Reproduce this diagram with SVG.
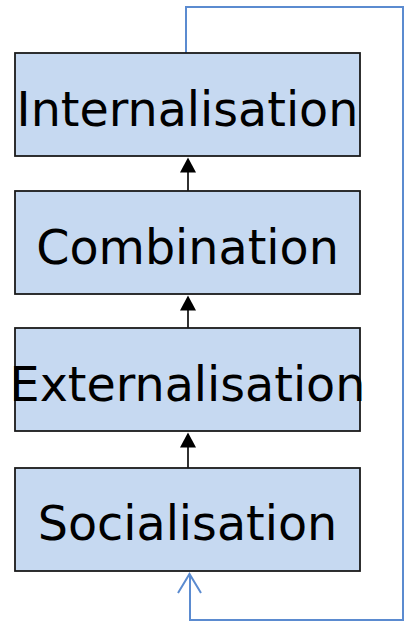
<svg xmlns="http://www.w3.org/2000/svg" width="404" height="624" viewBox="0 0 404 624">
  <style>
    .box { fill: #c6d9f1; stroke: #1a1a1a; stroke-width: 1.8; }
    .label { font-family: "DejaVu Sans", sans-serif; font-size: 47.6px; fill: #000; text-anchor: middle; }
    .flow { stroke: #1a1a1a; stroke-width: 1.8; fill: none; }
    .head { fill: #000; }
    .loop { stroke: #5b8bd0; stroke-width: 2; fill: none; }
  </style>
  <rect width="404" height="624" fill="#fff"/>

  <g id="connectors">
    <!-- upward flow between stages -->
    <line class="flow" x1="188" y1="191" x2="188" y2="170"/>
    <line class="flow" x1="188" y1="328" x2="188" y2="308"/>
    <line class="flow" x1="188" y1="468" x2="188" y2="445"/>
    <path class="head" d="M180,172.5 L188,157.5 L196,172.5 Z"/>
    <path class="head" d="M180,310.5 L188,295.5 L196,310.5 Z"/>
    <path class="head" d="M180,447.5 L188,432.5 L196,447.5 Z"/>
    <!-- feedback loop from Internalisation back to Socialisation -->
    <path class="loop" d="M186,53 L186,7 L403,7 L403,620 L190,620 L190,576"/>
    <path class="loop" d="M178,593 L189.5,574 L201,593" stroke-width="3"/>
  </g>

  <g id="internalisation">
    <rect class="box" x="15" y="53" width="345" height="103"/>
    <text class="label" x="187.5" y="126">Internalisation</text>
  </g>
  <g id="combination">
    <rect class="box" x="15" y="191" width="345" height="103"/>
    <text class="label" x="187.5" y="264">Combination</text>
  </g>
  <g id="externalisation">
    <rect class="box" x="15" y="328" width="345" height="103"/>
    <text class="label" x="187.5" y="401">Externalisation</text>
  </g>
  <g id="socialisation">
    <rect class="box" x="15" y="468" width="345" height="103"/>
    <text class="label" x="187.5" y="540">Socialisation</text>
  </g>
</svg>
